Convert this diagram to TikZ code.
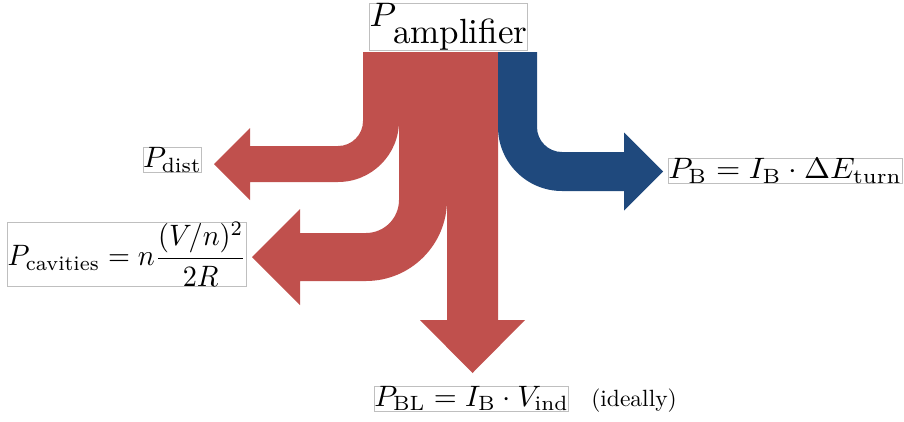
\documentclass[tikz,border=0pt]{standalone}
\usepackage{amsmath}
\definecolor{sred}{HTML}{C0504D}
\definecolor{sblue}{HTML}{1F497D}
\newcommand{\lblsc}[1]{\scalebox{2.95}{#1}}
\begin{document}
\begin{tikzpicture}[x=1pt,y=-1pt,
  lbl/.style={draw=black!25,line width=0.6pt,inner sep=0pt},
  flowr/.style={fill=sred,draw=none},
  flowb/.style={fill=sblue,draw=none}]
\useasboundingbox (0,0) rectangle (904,421);
% distribution losses
\fill[flowr] (363,52) -- (363,121) arc[start angle=0,end angle=90,radius=25]
  -- (250,146) -- (250,128) -- (214,164) -- (250,200) -- (250,182) -- (338,182)
  arc[start angle=90,end angle=0,radius=61] -- (399,52) -- cycle;
% cavities
\fill[flowr] (399,52) -- (399,200) arc[start angle=0,end angle=90,radius=33]
  -- (300,233) -- (300,209) -- (252,257) -- (300,305) -- (300,281) -- (366,281)
  arc[start angle=90,end angle=0,radius=81] -- (447,52) -- cycle;
% beam loading
\fill[flowr] (447,52) -- (447,320) -- (420,320) -- (472.5,373) -- (525,320) -- (498,320) -- (498,52) -- cycle;
% beam
\fill[flowb] (498,52) -- (498,127) arc[start angle=180,end angle=90,radius=64]
  -- (624,191) -- (624,210.5) -- (663,171.5) -- (624,132.5) -- (624,152) -- (562,152)
  arc[start angle=90,end angle=180,radius=25] -- (537,52) -- cycle;
% labels
\node[lbl,anchor=south] (pamp) at (448.5,50.5) {\scalebox{3.4}{$P$}\kern-3pt\raisebox{-17pt}{\scalebox{3.5}{amplifier}}};
\node[lbl,anchor=east] (pdist) at (202,160) {\lblsc{$P_\text{dist}$}};
\node[lbl,anchor=east] (pcav) at (247,254) {\scalebox{2.82}[2.95]{$P_\text{cavities} = n\dfrac{(V/n)^2}{2R}$}};
\node[lbl,anchor=west] (pb) at (668,171) {\scalebox{3.12}[2.95]{$P_\text{B} = I_\text{B}\cdot\Delta E_\text{turn}$}};
\node[lbl,anchor=north west] (pbl) at (374,386) {\lblsc{$P_\text{BL} = I_\text{B}\cdot V_\text{ind}$}};
\node[anchor=base west,inner sep=0pt] (ideal) at ([xshift=22pt]pbl.base east) {\scalebox{2.35}{(ideally)}};
\end{tikzpicture}
\end{document}
